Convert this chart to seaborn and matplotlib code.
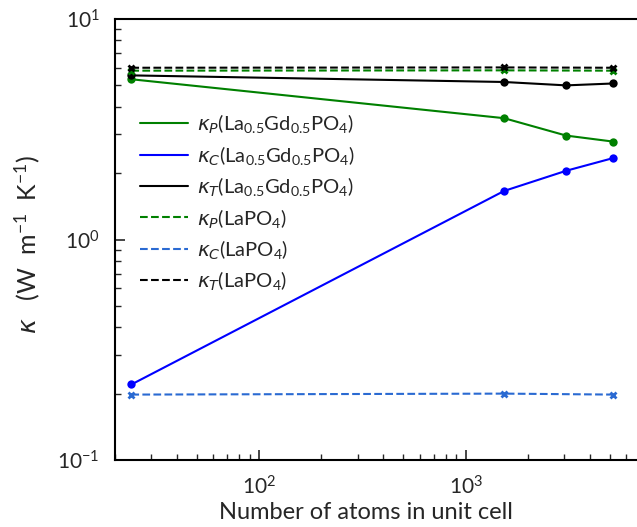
import matplotlib
matplotlib.use("Agg")
import matplotlib.pyplot as plt
import seaborn as sns
import numpy as np

# Data
atoms = [24, 1536, 3072, 5184]
kp_lagd = [5.33, 3.55, 2.96, 2.78]
kc_lagd = [0.22, 1.66, 2.05, 2.34]
kt_lagd = [5.55, 5.18, 5.00, 5.10]

atoms_la = [24, 1536, 5184]
kp_la = [5.83, 5.85, 5.83]
kc_la = [0.198, 0.200, 0.198]
kt_la = [6.01, 6.03, 6.01]

labels = [r'$\mathit{\kappa}_{\mathit{P}}$(La$_{0.5}$Gd$_{0.5}$PO$_4$)',
          r'$\mathit{\kappa}_{\mathit{C}}$(La$_{0.5}$Gd$_{0.5}$PO$_4$)',
          r'$\mathit{\kappa}_{\mathit{T}}$(La$_{0.5}$Gd$_{0.5}$PO$_4$)',
          r'$\mathit{\kappa}_{\mathit{P}}$(LaPO$_4$)',
          r'$\mathit{\kappa}_{\mathit{C}}$(LaPO$_4$)',
          r'$\mathit{\kappa}_{\mathit{T}}$(LaPO$_4$)']

sns.set_style("white")
plt.rcParams['font.family'] = ['Lato', 'DejaVu Sans']
plt.rcParams['mathtext.fontset'] = 'custom'
plt.rcParams['mathtext.rm'] = 'Lato'
plt.rcParams['mathtext.it'] = 'DejaVu Sans:italic'
plt.rcParams['mathtext.default'] = 'rm'

fig = plt.figure(figsize=(6.37, 5.27), dpi=100)
ax = fig.add_axes([115/637, 1-460/527, 525/637, 441/527])

green = '#008000'
blue = '#0000ff'
lblue = '#2a6ad2'

common = dict(ax=ax, estimator=None, linewidth=1.5)
sns.lineplot(x=atoms, y=kp_lagd, color=green, marker='o', markersize=6,
             markeredgewidth=0, label=labels[0], **common)
sns.lineplot(x=atoms, y=kc_lagd, color=blue, marker='o', markersize=6,
             markeredgewidth=0, label=labels[1], **common)
sns.lineplot(x=atoms, y=kt_lagd, color='black', marker='o', markersize=6,
             markeredgewidth=0, label=labels[2], **common)
sns.lineplot(x=atoms_la, y=kp_la, color=green, marker='x', markersize=5,
             markeredgewidth=2, markeredgecolor=green, linestyle='--',
             label=labels[3], **common)
sns.lineplot(x=atoms_la, y=kc_la, color=lblue, marker='x', markersize=5,
             markeredgewidth=2, markeredgecolor=lblue, linestyle='--',
             label=labels[4], **common)
sns.lineplot(x=atoms_la, y=kt_la, color='black', marker='x', markersize=5,
             markeredgewidth=2, markeredgecolor='black', linestyle='--',
             label=labels[5], **common)

ax.set_xscale('log')
ax.set_yscale('log')
ax.set_xlim(20, 7000)
ax.set_ylim(0.1, 10)

for s in ax.spines.values():
    s.set_color('black')
    s.set_linewidth(1.5)

ax.tick_params(which='major', direction='in', length=7, width=1.2,
               bottom=True, left=True, top=False, right=False,
               labelsize=15, pad=11)
ax.tick_params(which='minor', direction='in', length=4, width=1.0,
               bottom=True, left=True, top=False, right=False)

ax.set_xlabel('Number of atoms in unit cell', fontsize=17)
ax.xaxis.set_label_coords(0.478, -0.095)
ax.set_ylabel(r'$\mathit{\kappa}$   (W  m$^{-1}$  K$^{-1}$)', fontsize=18)
ax.yaxis.set_label_coords(-0.14, 0.49)

leg = ax.legend(loc='upper left', bbox_to_anchor=(122/637, 1-94/527),
                bbox_transform=fig.transFigure, frameon=False, fontsize=14.5,
                handlelength=2.4, handletextpad=0.4, labelspacing=0.42)
for h in leg.legend_handles:
    h.set_marker('')

fig.savefig('out.png', dpi=100)
